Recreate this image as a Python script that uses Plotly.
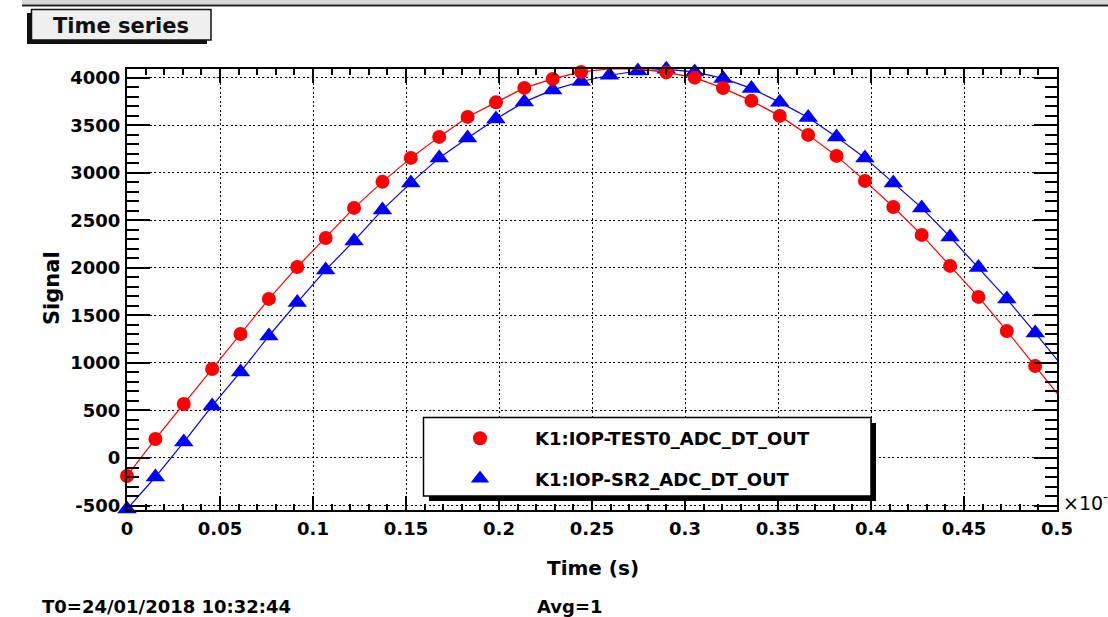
import plotly.graph_objects as go

# ---------------- data ----------------
time_ms = [0.0, 0.01526, 0.03052, 0.04578, 0.06104, 0.07629, 0.09155, 0.10681,
           0.12207, 0.13733, 0.15259, 0.16785, 0.18311, 0.19836, 0.21362, 0.22888,
           0.24414, 0.25940, 0.27466, 0.28992, 0.30518, 0.32043, 0.33569, 0.35095,
           0.36621, 0.38147, 0.39673, 0.41199, 0.42725, 0.44250, 0.45776, 0.47302,
           0.48828, 0.50354]

test0_signal = [-189, 200, 568, 936, 1304, 1673, 2009, 2314, 2630, 2904, 3156, 3377,
                3587, 3740, 3892, 3987, 4060, 4092, 4092, 4055, 4000, 3890, 3756, 3598,
                3398, 3177, 2914, 2640, 2346, 2020, 1694, 1336, 968, 595]

sr2_signal = [-537, -200, 168, 547, 905, 1283, 1636, 1978, 2283, 2609, 2893, 3156,
              3366, 3566, 3745, 3871, 3960, 4025, 4070, 4088, 4060, 3992, 3887, 3740,
              3582, 3377, 3156, 2893, 2630, 2325, 2004, 1673, 1315, 950]

n_visible = 33  # points inside the 0..0.5 window

series_names = ["K1:IOP-TEST0_ADC_DT_OUT", "K1:IOP-SR2_ADC_DT_OUT"]

x_tickvals = [0, 0.05, 0.1, 0.15, 0.2, 0.25, 0.3, 0.35, 0.4, 0.45, 0.5]
x_ticktext = ["0", "0.05", "0.1", "0.15", "0.2", "0.25", "0.3", "0.35", "0.4", "0.45", "0.5"]
y_tickvals = [-500, 0, 500, 1000, 1500, 2000, 2500, 3000, 3500, 4000]
y_ticktext = ["-500", "0", "500", "1000", "1500", "2000", "2500", "3000", "3500", "4000"]

title_text = "Time series"
x_title = "Time (s)"
y_title = "Signal"
t0_text = "T0=24/01/2018 10:32:44"
avg_text = "Avg=1"

# ---------------- layout geometry ----------------
W, H = 1108, 617
L, R, T, B = 127, 1057, 69, 510  # plot area in pixels
PW, PH = R - L, B - T


def px(xp):
    return (xp - L) / PW


def py(yp):
    return (B - yp) / PH


FONT = "DejaVu Sans"
RED = "#ff0000"
BLUE = "#0000ff"

fig = go.Figure()

# lines (extend past the frame, clipped)
fig.add_trace(go.Scatter(x=time_ms, y=sr2_signal, mode="lines",
                         line=dict(color=BLUE, width=1.2), showlegend=False,
                         hoverinfo="skip"))
fig.add_trace(go.Scatter(x=time_ms[:n_visible], y=sr2_signal[:n_visible], mode="markers",
                         name=series_names[1], legendrank=2, legendgroup="sr2",
                         marker=dict(symbol="triangle-up", size=17, color=BLUE),
                         cliponaxis=False))
fig.add_trace(go.Scatter(x=time_ms, y=test0_signal, mode="lines",
                         line=dict(color=RED, width=1.2), showlegend=False,
                         hoverinfo="skip"))
fig.add_trace(go.Scatter(x=time_ms[:n_visible], y=test0_signal[:n_visible], mode="markers",
                         name=series_names[0], legendrank=1, legendgroup="test0",
                         marker=dict(symbol="circle", size=14, color=RED),
                         cliponaxis=False))

shapes = []
# top grey strip
shapes.append(dict(type="rect", xref="paper", yref="paper",
                   x0=px(22), x1=px(W + 5), y0=py(-5), y1=py(4.5),
                   fillcolor="#d8d8d8", line=dict(width=0), layer="above"))
shapes.append(dict(type="line", xref="paper", yref="paper",
                   x0=px(22), x1=px(W + 5), y0=py(5.5), y1=py(5.5),
                   line=dict(color="#222222", width=2), layer="above"))
# title box with shadow
shapes.append(dict(type="rect", xref="paper", yref="paper",
                   x0=px(27), x1=px(207), y0=py(44), y1=py(13),
                   fillcolor="#111111", line=dict(width=0), layer="above"))
shapes.append(dict(type="rect", xref="paper", yref="paper",
                   x0=px(31.5), x1=px(211), y0=py(40), y1=py(9.5),
                   fillcolor="#efefef", line=dict(color="#111111", width=1.5), layer="above"))
# legend box with shadow
shapes.append(dict(type="rect", xref="paper", yref="paper",
                   x0=px(429), x1=px(876), y0=py(501), y1=py(423),
                   fillcolor="#000000", line=dict(width=0), layer="above"))
shapes.append(dict(type="rect", xref="paper", yref="paper",
                   x0=px(423.5), x1=px(871), y0=py(496), y1=py(417.5),
                   fillcolor="#ffffff", line=dict(color="#000000", width=1.5), layer="above"))

annotations = [
    dict(text=title_text, xref="paper", yref="paper", x=px(121), y=py(26),
         xanchor="center", yanchor="middle", showarrow=False,
         font=dict(family=FONT, size=21, color="#111111", weight="bold")),
    dict(text=x_title, xref="paper", yref="paper", x=px(593), y=py(568),
         xanchor="center", yanchor="middle", showarrow=False,
         font=dict(family=FONT, size=20, color="#000000", weight="bold")),
    dict(text=y_title, xref="paper", yref="paper", x=px(52), y=py(288),
         xanchor="center", yanchor="middle", showarrow=False, textangle=-90,
         font=dict(family=FONT, size=21, color="#000000", weight="bold")),
    dict(text="\u00d710<sup>-3</sup>", xref="paper", yref="paper", x=px(1061), y=py(502),
         xanchor="left", yanchor="middle", showarrow=False,
         font=dict(family=FONT, size=19, color="#000000")),
    dict(text=t0_text, xref="paper", yref="paper", x=px(40), y=py(606),
         xanchor="left", yanchor="middle", showarrow=False,
         font=dict(family=FONT, size=18, color="#000000", weight="bold")),
    dict(text=avg_text, xref="paper", yref="paper", x=px(535), y=py(606),
         xanchor="left", yanchor="middle", showarrow=False,
         font=dict(family=FONT, size=18, color="#000000", weight="bold")),
]

tickfont = dict(family=FONT, size=18, color="#000000", weight="bold")
grid_dash = "2px,2.5px"

fig.update_layout(
    width=W, height=H,
    margin=dict(l=L, r=W - R, t=T, b=H - B, pad=0),
    paper_bgcolor="#ffffff", plot_bgcolor="#ffffff",
    shapes=shapes, annotations=annotations,
    showlegend=True,
    legend=dict(x=px(425), y=py(420), xanchor="left", yanchor="top",
                bgcolor="rgba(0,0,0,0)", borderwidth=0,
                itemwidth=100, tracegroupgap=14, traceorder="grouped",
                font=dict(family=FONT, size=18, color="#000000", weight="bold")),
    xaxis=dict(range=[0, 0.5], tickmode="array", tickvals=x_tickvals, ticktext=x_ticktext,
               ticks="inside", ticklen=14, tickwidth=1.5, tickcolor="#000000",
               showline=True, linecolor="#000000", linewidth=2, mirror="ticks",
               showgrid=True, gridcolor="#000000", gridwidth=1, griddash=grid_dash,
               zeroline=False, tickfont=tickfont, ticklabelstandoff=1,
               minor=dict(dtick=0.01, tick0=0, ticks="inside", ticklen=6, tickwidth=1.5,
                          tickcolor="#000000", showgrid=False)),
    yaxis=dict(range=[-547, 4091], tickmode="array", tickvals=y_tickvals, ticktext=y_ticktext,
               ticks="inside", ticklen=23, tickwidth=1.5, tickcolor="#000000",
               showline=True, linecolor="#000000", linewidth=2, mirror="ticks",
               showgrid=True, gridcolor="#000000", gridwidth=1, griddash=grid_dash,
               zeroline=False, tickfont=tickfont, ticklabelstandoff=1,
               minor=dict(dtick=100, tick0=0, ticks="inside", ticklen=12, tickwidth=1.5,
                          tickcolor="#000000", showgrid=False)),
)

fig.write_html("out.html", config={"displayModeBar": False},
               post_script="document.body.style.margin='0px';document.body.style.overflow='hidden';")
